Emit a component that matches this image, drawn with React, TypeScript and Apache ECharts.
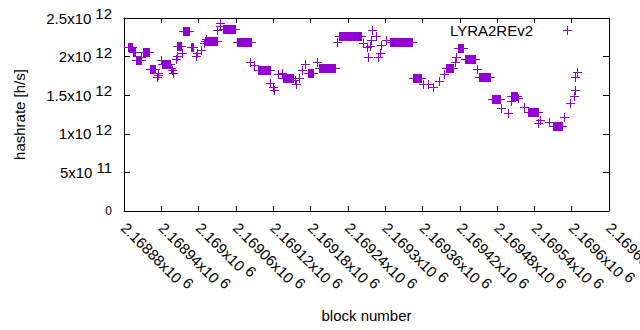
import React, { useEffect, useRef } from 'react';
import * as echarts from 'echarts';

// Runs of identical hashrate over consecutive blocks (start block, end block, hashrate [h/s])
const blockStart = [
  2168886, 2168894, 2168899, 2168907, 2168911, 2168922, 2168933, 2168934, 2168935, 2168939,
  2168941, 2168956, 2168957, 2168958, 2168964, 2168965, 2168966, 2168974, 2168975, 2168987,
  2168996, 2168998, 2169004, 2169008, 2169010, 2169012, 2169030, 2169034, 2169035, 2169039,
  2169061, 2169083, 2169089, 2169096, 2169115, 2169120, 2169121, 2169127, 2169134, 2169136,
  2169155, 2169156, 2169161, 2169167, 2169171, 2169176, 2169191, 2169194, 2169222, 2169226,
  2169265, 2169271, 2169272, 2169276, 2169277, 2169279, 2169285, 2169289, 2169291, 2169294,
  2169302, 2169308, 2169344, 2169361, 2169369, 2169377, 2169386, 2169394, 2169398, 2169412,
  2169414, 2169417, 2169429, 2169447, 2169451, 2169472, 2169486, 2169497, 2169502, 2169503,
  2169513, 2169523, 2169529, 2169546, 2169549, 2169563, 2169570, 2169588, 2169597, 2169604,
  2169605, 2169606, 2169608,
];
const blockEnd = [
  2168893, 2168897, 2168907, 2168907, 2168920, 2168930, 2168933, 2168934, 2168935, 2168939,
  2168954, 2168956, 2168957, 2168958, 2168964, 2168965, 2168972, 2168974, 2168985, 2168991,
  2168996, 2168998, 2169004, 2169008, 2169029, 2169012, 2169030, 2169034, 2169035, 2169058,
  2169085, 2169083, 2169089, 2169115, 2169115, 2169120, 2169121, 2169127, 2169134, 2169152,
  2169155, 2169156, 2169161, 2169167, 2169171, 2169184, 2169191, 2169219, 2169222, 2169261,
  2169265, 2169271, 2169272, 2169276, 2169277, 2169279, 2169285, 2169289, 2169291, 2169294,
  2169302, 2169343, 2169358, 2169361, 2169369, 2169377, 2169386, 2169394, 2169409, 2169412,
  2169414, 2169425, 2169445, 2169447, 2169469, 2169484, 2169486, 2169497, 2169512, 2169503,
  2169513, 2169523, 2169546, 2169546, 2169549, 2169563, 2169584, 2169588, 2169597, 2169604,
  2169605, 2169606, 2169608,
];
const hashrate = [
  2.12e12, 2.06e12, 1.95e12, 2.0e12, 2.06e12, 1.84e12, 1.74e12, 1.76e12, 1.79e12, 1.96e12,
  1.91e12, 1.85e12, 1.83e12, 1.79e12, 1.97e12, 2.01e12, 2.14e12, 2.05e12, 2.33e12, 2.12e12,
  2.01e12, 2.05e12, 2.09e12, 2.17e12, 2.2e12, 2.23e12, 2.34e12, 2.44e12, 2.39e12, 2.36e12,
  2.19e12, 1.93e12, 1.89e12, 1.83e12, 1.66e12, 1.61e12, 1.57e12, 1.78e12, 1.79e12, 1.72e12,
  1.7e12, 1.65e12, 1.72e12, 1.83e12, 1.91e12, 1.79e12, 1.93e12, 1.85e12, 2.19e12, 2.27e12,
  2.17e12, 2.13e12, 1.99e12, 2.14e12, 2.22e12, 2.34e12, 2.27e12, 1.99e12, 2.05e12, 2.15e12,
  2.22e12, 2.19e12, 1.72e12, 1.65e12, 1.65e12, 1.6e12, 1.68e12, 1.78e12, 1.85e12, 1.93e12,
  2.0e12, 2.11e12, 1.97e12, 1.84e12, 1.73e12, 1.45e12, 1.33e12, 1.27e12, 1.49e12, 1.42e12,
  1.46e12, 1.35e12, 1.28e12, 1.14e12, 1.18e12, 1.15e12, 1.1e12, 1.22e12, 1.4e12, 1.49e12,
  1.57e12, 1.74e12, 1.8e12,
];

const SERIES_NAME = 'LYRA2REv2';
const X_MIN = 2168880;
const X_MAX = 2169660;
const X_STEP = 60;
const Y_MIN = 0;
const Y_MAX = 2.5e12;
const Y_STEP = 5e11;

const COLOR = '#9400d3';
const FONT = '"Liberation Sans", Arial, sans-serif';
const FS = 15;

function sci(v: number): string {
  if (v === 0) return '0';
  const e = Math.floor(Math.log10(Math.abs(v)) + 1e-9);
  const m = parseFloat((v / Math.pow(10, e)).toPrecision(6));
  return `{m|${m}x10}{s|${e}}`;
}

const rich = {
  m: { fontSize: FS, fontFamily: FONT, color: '#000' },
  s: { fontSize: FS, fontFamily: FONT, color: '#000', padding: [0, 0, 9, 4] },
};

export default function App() {
  const ref = useRef<HTMLDivElement>(null);
  useEffect(() => {
    if (!ref.current) return;
    const chart = echarts.init(ref.current, undefined, { renderer: 'svg' });
    const data = blockStart.map((s, i) => [s, blockEnd[i], hashrate[i]]);
    const axisLine = { show: true, onZero: false, lineStyle: { color: '#000', width: 1 } };
    const option: any = {
      animation: false,
      textStyle: { fontFamily: FONT },
      grid: { left: 124, right: 31, top: 18, bottom: 119, containLabel: false, outerBoundsMode: 'none' },
      legend: {
        show: true,
        data: [SERIES_NAME],
        right: 68,
        top: 23,
        padding: 0,
        itemWidth: 9,
        itemHeight: 9,
        align: 'right',
        icon: 'path://M0,4H9V5H0Z M4,0H5V9H4Z',
        formatter: (n: string) => `{a|${n}}`,
        textStyle: {
          fontSize: FS, fontFamily: FONT, color: '#000',
          rich: { a: { fontSize: FS, fontFamily: FONT, color: '#000', padding: [0, 25, 0, 0] } },
        },
      },
      xAxis: [
        {
          type: 'value', position: 'bottom', min: X_MIN, max: X_MAX, interval: X_STEP,
          name: 'block number', nameLocation: 'middle', nameGap: 97,
          nameTextStyle: { fontSize: FS, fontFamily: FONT, color: '#000' },
          axisLine, axisTick: { show: true, inside: true, length: 5, lineStyle: { color: '#000' } },
          axisLabel: { rotate: -45, margin: 14, formatter: (v: number) => sci(v), rich, color: '#000' },
          splitLine: { show: false },
        },
        {
          type: 'value', position: 'top', min: X_MIN, max: X_MAX, interval: X_STEP,
          axisLine, axisTick: { show: true, inside: true, length: 5, lineStyle: { color: '#000' } },
          axisLabel: { show: false }, splitLine: { show: false },
        },
      ],
      yAxis: [
        {
          type: 'value', position: 'left', min: Y_MIN, max: Y_MAX, interval: Y_STEP,
          name: 'hashrate [h/s]', nameLocation: 'middle', nameGap: 97,
          nameTextStyle: { fontSize: FS, fontFamily: FONT, color: '#000' },
          axisLine, axisTick: { show: true, inside: true, length: 6, lineStyle: { color: '#000' } },
          axisLabel: { margin: 12, formatter: (v: number) => sci(v), rich, color: '#000' },
          splitLine: { show: false },
        },
        {
          type: 'value', position: 'right', min: Y_MIN, max: Y_MAX, interval: Y_STEP,
          axisLine, axisTick: { show: true, inside: true, length: 6, lineStyle: { color: '#000' } },
          axisLabel: { show: false }, splitLine: { show: false },
        },
      ],
      series: [
        {
          type: 'custom',
          name: SERIES_NAME,
          xAxisIndex: 0,
          yAxisIndex: 0,
          itemStyle: { color: COLOR },
          encode: { x: [0, 1], y: 2 },
          data,
          renderItem: (params: any, api: any) => {
            const p1 = api.coord([api.value(0), api.value(2)]);
            const p2 = api.coord([api.value(1), api.value(2)]);
            const x1 = Math.round(p1[0]);
            const x2 = Math.round(p2[0]);
            const y = Math.round(p1[1]);
            return {
              type: 'group',
              children: [
                { type: 'rect', shape: { x: x1, y: y - 4, width: x2 - x1 + 1, height: 9 }, style: { fill: COLOR } },
                { type: 'rect', shape: { x: x1 - 4, y: y, width: x2 - x1 + 9, height: 1 }, style: { fill: COLOR } },
              ],
            };
          },
        },
      ],
    };
    chart.setOption(option);
    return () => chart.dispose();
  }, []);
  return (
    <div
      ref={ref}
      style={{ position: 'fixed', left: 0, top: 0, width: 640, height: 330, background: '#fff' }}
    />
  );
}
